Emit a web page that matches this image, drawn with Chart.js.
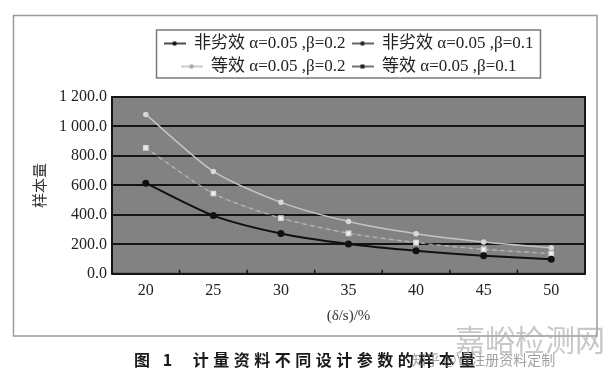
<!DOCTYPE html>
<html lang="zh">
<head>
<meta charset="UTF-8">
<title>计量资料不同设计参数的样本量</title>
<script src="https://cdn.jsdelivr.net/npm/chart.js"></script>
<style>
	body { margin: 0; background: #fff; }
	#wrap { position: relative; width: 606px; height: 383px; }
	#caption { position: absolute; left: 134px; top: 347px; font: bold 16px 'Noto Sans CJK SC'; letter-spacing: 4.5px; color: #1a1a1a; white-space: nowrap; }
	#mark1 { position: absolute; left: 455px; top: 316px; font: 30px 'Noto Sans CJK SC'; color: rgba(175,175,175,0.7); white-space: nowrap; }
	#mark2 { position: absolute; left: 412px; top: 349px; font: 14px 'Noto Sans CJK SC'; color: rgba(120,120,120,0.7); white-space: nowrap; }
</style>
</head>
<body>
<div id="wrap">
	<canvas id="myChart" width="606" height="383"></canvas>
	<div id="caption">图 1&nbsp;&nbsp;计量资料不同设计参数的样本量</div>
	<div id="mark1">嘉峪检测网</div>
	<div id="mark2">知乎 @YY注册资料定制</div>
</div>

<script>
	// values (sample size vs delta/s)
	const labels = ['20', '25', '30', '35', '40', '45', '50'];
	const seriesNames = [
		'非劣效 α=0.05 ,β=0.2',
		'非劣效 α=0.05 ,β=0.1',
		'等效 α=0.05 ,β=0.2',
		'等效 α=0.05 ,β=0.1'
	];
	const nonInf02 = [615, 395, 273, 202, 156, 123, 99];
	const nonInf01 = [855, 545, 378, 275, 212, 166, 137];
	const equiv02 = [855, 545, 378, 275, 212, 166, 137];
	const equiv01 = [1082, 695, 485, 355, 272, 216, 176];
	const yMax = 1200;
	const yStep = 200;

	const serif = "'Liberation Serif', 'Noto Sans CJK SC'";

	// little line+dot pictures for the legend
	function legendIcon(lineColor, dotColor, square) {
		const c = document.createElement('canvas');
		c.width = 22; c.height = 8;
		const g = c.getContext('2d');
		g.strokeStyle = lineColor;
		g.lineWidth = 1.5;
		g.beginPath(); g.moveTo(0, 4); g.lineTo(22, 4); g.stroke();
		g.fillStyle = dotColor;
		if (square) {
			g.fillRect(9, 2, 4, 4);
		} else {
			g.beginPath(); g.arc(11, 4, 2.2, 0, Math.PI * 2); g.fill();
		}
		return c;
	}
	const icons = [
		legendIcon('#111', '#111', false),
		legendIcon('#333', '#222', false),
		legendIcon('#bbb', '#aaa', false),
		legendIcon('#444', '#222', true)
	];

	const frame = {
		id: 'frame',
		beforeInit(chart) {
			// leave a gap under the legend
			const fit = chart.legend.fit;
			chart.legend.fit = function () {
				fit.call(this);
				this.height += 12;
			};
		},
		beforeDraw(chart) {
			const ctx = chart.ctx;
			const a = chart.chartArea;
			ctx.save();
			ctx.fillStyle = '#fff';
			ctx.fillRect(0, 0, chart.width, chart.height);
			ctx.strokeStyle = '#9a9a9a';
			ctx.lineWidth = 1.5;
			ctx.strokeRect(13.5, 15.5, 583.5, 320.5);
			ctx.fillStyle = '#828282';
			ctx.fillRect(a.left, a.top, a.right - a.left, a.bottom - a.top);
			ctx.restore();
		},
		afterDatasetsDraw(chart) {
			const ctx = chart.ctx;
			const a = chart.chartArea;
			const xs = chart.scales.x;
			ctx.save();
			ctx.strokeStyle = '#151515';
			ctx.lineWidth = 2;
			ctx.strokeRect(a.left, a.top, a.right - a.left, a.bottom - a.top);
			// small ticks between categories, pointing into the plot
			const half = (xs.getPixelForValue(1) - xs.getPixelForValue(0)) / 2;
			ctx.lineWidth = 1.5;
			ctx.beginPath();
			for (let i = 0; i < labels.length - 1; i++) {
				const x = xs.getPixelForValue(i) + half;
				ctx.moveTo(x, a.bottom); ctx.lineTo(x, a.bottom - 4);
			}
			ctx.stroke();
			ctx.restore();
		},
		afterDraw(chart) {
			// box round the legend
			const hb = chart.legend.legendHitBoxes;
			if (!hb || !hb.length) return;
			let l = Infinity, t = Infinity, r = -Infinity, b = -Infinity;
			hb.forEach(h => {
				l = Math.min(l, h.left); t = Math.min(t, h.top);
				r = Math.max(r, h.left + h.width); b = Math.max(b, h.top + h.height);
			});
			const ctx = chart.ctx;
			ctx.save();
			ctx.strokeStyle = '#7a7a7a';
			ctx.lineWidth = 1.5;
			ctx.strokeRect(l - 7, t - 5, r - l + 14, b - t + 8);
			ctx.restore();
		}
	};

	new Chart(document.getElementById('myChart'), {
		type: 'line',
		data: {
			labels: labels,
			datasets: [
				{
					label: seriesNames[0], data: nonInf02,
					borderColor: '#111', borderWidth: 2, tension: 0.25,
					pointRadius: 2.5, pointBackgroundColor: '#111', pointBorderColor: '#111'
				},
				{
					label: seriesNames[1], data: nonInf01,
					borderColor: 'rgba(205,205,205,0.6)', borderWidth: 1.5, borderDash: [4, 4], tension: 0.25,
					pointStyle: 'rect', pointRadius: 3, pointBackgroundColor: '#f2f2f2', pointBorderColor: '#d8d8d8'
				},
				{
					label: seriesNames[2], data: equiv02,
					borderColor: 'rgba(200,200,200,0.25)', borderWidth: 1, tension: 0.25,
					pointRadius: 0
				},
				{
					label: seriesNames[3], data: equiv01,
					borderColor: '#c4c4c4', borderWidth: 1.5, tension: 0.25,
					pointRadius: 2, pointBackgroundColor: '#d8d8d8', pointBorderColor: '#d8d8d8'
				}
			]
		},
		options: {
			responsive: false,
			animation: false,
			layout: { padding: { left: 26, right: 21, top: 29, bottom: 58 } },
			plugins: {
				tooltip: { enabled: false },
				legend: {
					position: 'top',
					fullSize: false,
					labels: {
						usePointStyle: true,
						pointStyleWidth: 22,
						padding: 6,
						color: '#222',
						font: { family: serif, size: 17 },
						generateLabels(chart) {
							const items = Chart.defaults.plugins.legend.labels.generateLabels(chart);
							items.forEach((it, i) => { it.pointStyle = icons[i]; it.fontColor = '#222'; });
							return items;
						}
					}
				}
			},
			scales: {
				x: {
					offset: true,
					grid: { display: false, drawTicks: false },
					border: { display: false },
					ticks: { color: '#222', font: { family: serif, size: 16 }, padding: 7 },
					title: { display: true, text: '(δ/s)/%', color: '#333', font: { family: serif, size: 15 }, padding: { top: 0, bottom: 0 } }
				},
				y: {
					min: 0, max: yMax,
					grid: { color: '#151515', lineWidth: 2, drawTicks: false },
					border: { display: false },
					ticks: {
						stepSize: yStep, color: '#222', padding: 5,
						font: { family: serif, size: 16 },
						callback: v => {
							const [i, d] = v.toFixed(1).split('.');
							return i.replace(/\B(?=(\d{3})+(?!\d))/g, ' ') + '.' + d;
						}
					},
					title: { display: true, text: '样本量', color: '#333', font: { family: "'Noto Sans CJK SC'", size: 15 }, padding: { bottom: 6 } }
				}
			}
		},
		plugins: [frame]
	});
</script>
</body>
</html>
